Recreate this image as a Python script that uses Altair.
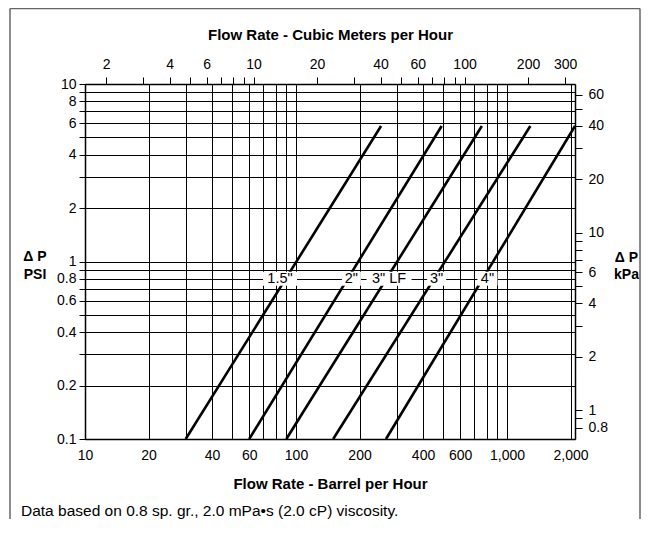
import altair as alt
import pandas as pd

# ---- data ----
PIPE_SIZES = ['1.5"', '2"', '3" LF', '3"', '4"']
FLOW_BPH_START = [30, 60, 90, 150, 267]
FLOW_BPH_END = [253, 490, 760, 1290, 2100]
DP_PSI_START = [0.1, 0.1, 0.1, 0.1, 0.1]
DP_PSI_END = [5.8, 5.8, 5.8, 5.8, 5.8]

LABEL_BPH = [84, 183, 276, 464, 808]
LABEL_PSI = [0.8, 0.8, 0.8, 0.8, 0.8]

BPH_TICKS = [10, 20, 30, 40, 50, 60, 70, 80, 90, 100, 200, 300, 400, 500, 600,
             700, 800, 900, 1000, 2000]
BPH_LABELS = [10, 20, 40, 60, 100, 200, 400, 600, 1000, 2000]
PSI_TICKS = [0.1, 0.2, 0.3, 0.4, 0.5, 0.6, 0.7, 0.8, 0.9, 1, 2, 3, 4, 5, 6, 7, 8, 9, 10]
PSI_LABELS = [0.1, 0.2, 0.4, 0.6, 0.8, 1, 2, 4, 6, 8, 10]
M3H_TICKS = [2, 3, 4, 5, 6, 7, 8, 9, 10, 20, 30, 40, 50, 60, 70, 80, 90, 100, 200, 300]
M3H_LABELS = [2, 4, 6, 10, 20, 40, 60, 100, 200, 300]
KPA_TICKS = [0.8, 0.9, 1, 2, 3, 4, 5, 6, 7, 8, 9, 10, 20, 30, 40, 50, 60]
KPA_LABELS = [0.8, 1, 2, 4, 6, 10, 20, 40, 60]

BPH_DOMAIN = [10, 2100]
PSI_DOMAIN = [0.1, 10]
M3_PER_BBL = 0.158987
KPA_PER_PSI = 6.894757

NOTE = "Data based on 0.8 sp. gr., 2.0 mPa\u2022s (2.0 cP) viscosity."

# ---- styling ----
FONT = "Liberation Sans"
BOX_WIDTH = {'1.5"': 34, '2"': 19, '3" LF': 45, '3"': 19, '4"': 20}

rows = []
for s, x0, x1, y0, y1 in zip(PIPE_SIZES, FLOW_BPH_START, FLOW_BPH_END, DP_PSI_START, DP_PSI_END):
    rows.append({"size": s, "bph": x0, "psi": y0})
    rows.append({"size": s, "bph": x1, "psi": y1})
lines_df = pd.DataFrame(rows)
labels_df = pd.DataFrame({"size": PIPE_SIZES, "bph": LABEL_BPH, "psi": LABEL_PSI})


def label_expr(vals):
    return "indexof([%s], datum.value) >= 0 ? datum.label : ''" % ",".join(repr(v) for v in vals)


common_axis = dict(labelFont=FONT, labelFontSize=14, labelColor="black", labelFlush=False,
                   labelOverlap=False, titleFont=FONT, titleFontWeight="bold",
                   titleColor="black", domainColor="black", domainWidth=1.5,
                   tickColor="black", tickWidth=1)

x_scale = alt.Scale(type="log", domain=BPH_DOMAIN, nice=False)
y_scale = alt.Scale(type="log", domain=PSI_DOMAIN, nice=False)

x_axis = alt.Axis(orient="bottom", values=BPH_TICKS, format=",~g",
                  labelExpr=label_expr(BPH_LABELS), grid=True, gridColor="black",
                  gridWidth=1, ticks=False, tickSize=0, labelPadding=9.5,
                  title="Flow Rate - Barrel per Hour", titleFontSize=15,
                  titleX=245, titleY=44, titleAlign="center", titleBaseline="middle",
                  **common_axis)
y_axis = alt.Axis(orient="left", values=PSI_TICKS, format="~g",
                  labelExpr=label_expr(PSI_LABELS), grid=True, gridColor="black",
                  gridWidth=1, ticks=True, tickSize=6, labelPadding=3,
                  title=["\u0394 P", "PSI"], titleFontSize=14, titleAngle=0,
                  titleX=-50.5, titleY=165, titleAlign="center", titleBaseline="top",
                  titleLineHeight=18.5, **common_axis)

X_ENC = alt.X("bph:Q", scale=x_scale, axis=x_axis)
Y_ENC = alt.Y("psi:Q", scale=y_scale, axis=y_axis)

lines = alt.Chart(lines_df).mark_line(color="black", strokeWidth=2.6).encode(
    x=X_ENC, y=Y_ENC, detail="size:N",
)

boxes = []
for s in PIPE_SIZES:
    w = BOX_WIDTH[s]
    boxes.append(
        alt.Chart(labels_df).transform_filter(alt.datum.size == s).mark_rect(
            color="white", xOffset=-w / 2, x2Offset=w / 2, yOffset=-7, y2Offset=7
        ).encode(x=X_ENC, x2="bph:Q", y=Y_ENC, y2="psi:Q")
    )

texts = alt.Chart(labels_df).mark_text(
    font=FONT, fontSize=14.5, color="black", align="center", baseline="middle"
).encode(x=X_ENC, y=Y_ENC, text="size:N")

one = pd.DataFrame({"note": [NOTE]})
note = alt.Chart(one).mark_text(
    font=FONT, fontSize=15.5, color="black", align="left", baseline="middle"
).encode(x=alt.value(-64), y=alt.value(427), text="note:N")

frame_left = alt.Chart(one).mark_rule(color="#666", strokeWidth=1.5).encode(
    x=alt.value(-75), y=alt.value(-75.5), y2=alt.value(435))
frame_top = alt.Chart(one).mark_rule(color="#666", strokeWidth=1.5).encode(
    x=alt.value(-75), x2=alt.value(555), y=alt.value(-75.5))
frame_right = alt.Chart(one).mark_rule(color="#666", strokeWidth=1.5).encode(
    x=alt.value(555), y=alt.value(-75.5), y2=alt.value(435))

main = alt.layer(lines, *boxes, texts, note, frame_left, frame_top, frame_right)

dummy_df = pd.DataFrame({
    "m3h": [BPH_DOMAIN[0] * M3_PER_BBL, BPH_DOMAIN[1] * M3_PER_BBL],
    "kpa": [PSI_DOMAIN[0] * KPA_PER_PSI, PSI_DOMAIN[1] * KPA_PER_PSI],
})
top_axis = alt.Axis(orient="top", values=M3H_TICKS, format="~g",
                    labelExpr=label_expr(M3H_LABELS), grid=False, ticks=True,
                    tickSize=7, labelPadding=6,
                    title="Flow Rate - Cubic Meters per Hour", titleFontSize=15,
                    titleX=245, titleY=-49.5, titleAlign="center", titleBaseline="middle",
                    **common_axis)
right_axis = alt.Axis(orient="right", values=KPA_TICKS, format="~g",
                      labelExpr=label_expr(KPA_LABELS), grid=False, ticks=True,
                      tickSize=7, labelPadding=6,
                      title=["\u0394 P", "kPa"], titleFontSize=14, titleAngle=0,
                      titleX=51, titleY=166, titleAlign="center", titleBaseline="top",
                      titleLineHeight=17, **common_axis)
dummy = alt.Chart(dummy_df).mark_point(opacity=0).encode(
    x=alt.X("m3h:Q", scale=alt.Scale(type="log", domain=dummy_df["m3h"].tolist(), nice=False),
            axis=top_axis),
    y=alt.Y("kpa:Q", scale=alt.Scale(type="log", domain=dummy_df["kpa"].tolist(), nice=False),
            axis=right_axis),
)

chart = alt.layer(main, dummy).resolve_scale(x="independent", y="independent").properties(
    width=490, height=355,
    padding={"left": 77, "top": 76, "right": 66, "bottom": 80},
    autosize=alt.AutoSizeParams(type="none"),
).configure_view(stroke=None)

chart.save("out.html", embed_options={"renderer": "svg", "actions": False})
